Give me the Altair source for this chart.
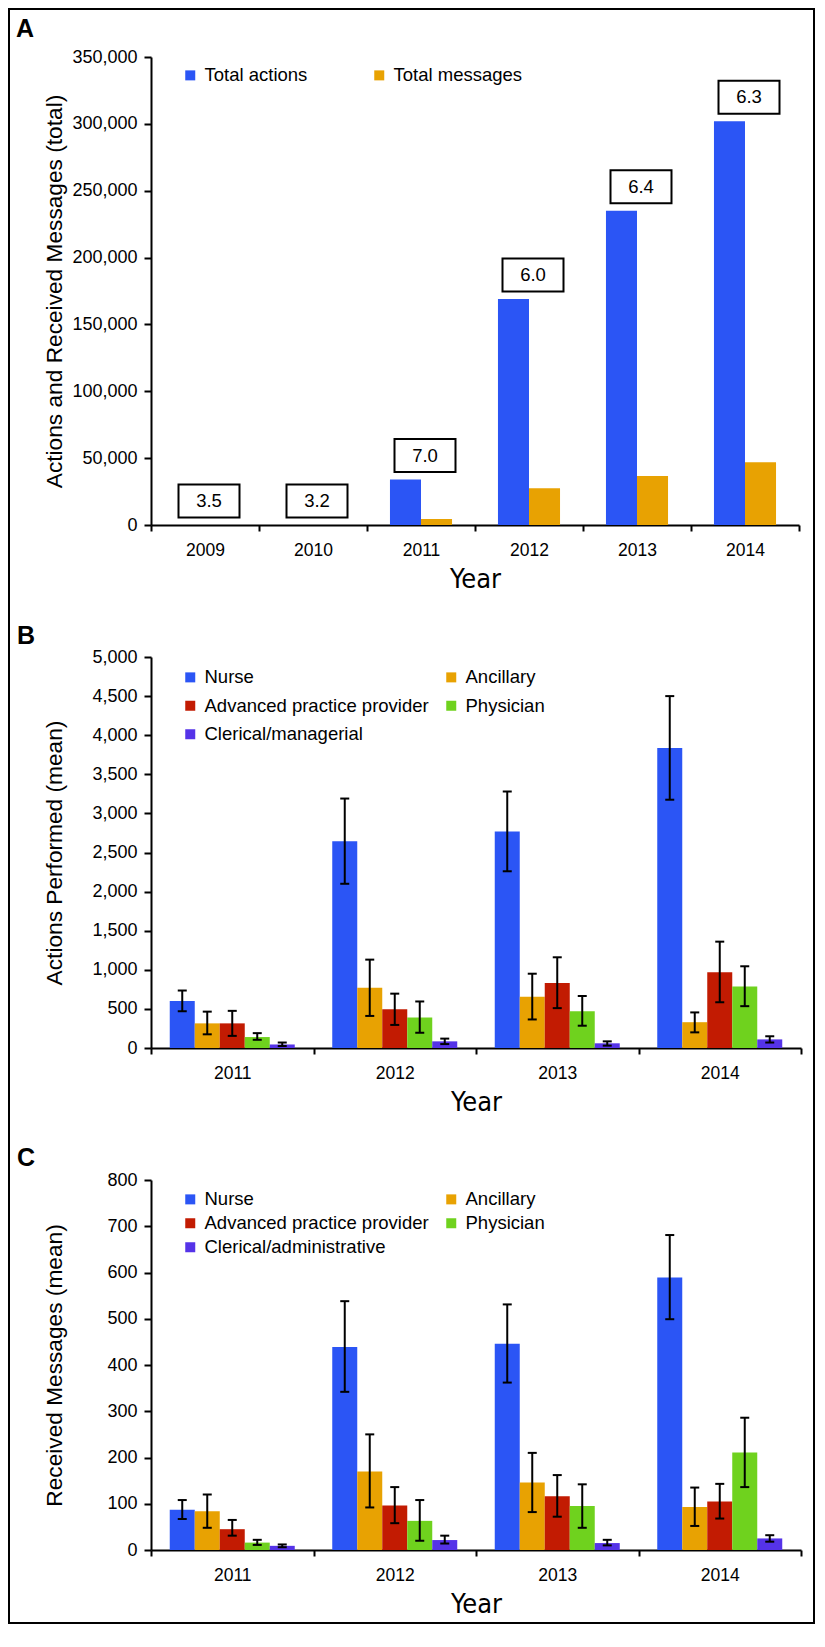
import altair as alt
import pandas as pd

FONT = "Liberation Sans"
NARROW = "Liberation Sans Narrow, DejaVu Sans Condensed, Liberation Sans"

# ---------------- Panel A data ----------------
years_a = ["2009", "2010", "2011", "2012", "2013", "2014"]
series_a = ["Total actions", "Total messages"]
total_actions = [None, None, 34000, 169000, 235000, 302000]
total_messages = [None, None, 4500, 27500, 36700, 47000]
ratio_labels = ["3.5", "3.2", "7.0", "6.0", "6.4", "6.3"]
y_ticks_a = [0, 50000, 100000, 150000, 200000, 250000, 300000, 350000]
colors_a = ["#2B55F5", "#E8A202"]

# ---------------- Panel B / C data ----------------
years_bc = ["2011", "2012", "2013", "2014"]
roles_b = ["Nurse", "Ancillary", "Advanced practice provider", "Physician", "Clerical/managerial"]
roles_c = ["Nurse", "Ancillary", "Advanced practice provider", "Physician", "Clerical/administrative"]
role_colors = ["#2B55F5", "#E8A202", "#C21B02", "#6FD21E", "#5533E8"]

# Actions performed (mean) with error bar bounds, per role, per year
b_nurse = [600, 2645, 2770, 3835]
b_nurse_lo = [470, 2100, 2260, 3175]
b_nurse_hi = [735, 3190, 3280, 4500]
b_anc = [315, 770, 655, 330]
b_anc_lo = [175, 410, 365, 200]
b_anc_hi = [465, 1130, 950, 455]
b_app = [315, 495, 830, 970]
b_app_lo = [155, 295, 510, 585]
b_app_hi = [475, 695, 1160, 1360]
b_phys = [140, 390, 470, 785]
b_phys_lo = [105, 195, 285, 535]
b_phys_hi = [190, 595, 665, 1045]
b_cler = [45, 85, 60, 110]
b_cler_lo = [25, 50, 30, 70]
b_cler_hi = [70, 120, 85, 150]
y_ticks_b = [0, 500, 1000, 1500, 2000, 2500, 3000, 3500, 4000, 4500, 5000]

# Received messages (mean)
c_nurse = [87, 439, 446, 589]
c_nurse_lo = [67, 342, 362, 499]
c_nurse_hi = [108, 538, 531, 681]
c_anc = [84, 170, 146, 93]
c_anc_lo = [48, 92, 82, 52]
c_anc_hi = [120, 250, 210, 135]
c_app = [45, 96, 116, 105]
c_app_lo = [31, 58, 72, 68]
c_app_hi = [65, 136, 162, 143]
c_phys = [16, 63, 95, 211]
c_phys_lo = [11, 20, 48, 136]
c_phys_hi = [22, 108, 142, 286]
c_cler = [9, 21.5, 15, 25]
c_cler_lo = [6, 14, 10, 18]
c_cler_hi = [12, 31, 22, 32]
y_ticks_c = [0, 100, 200, 300, 400, 500, 600, 700, 800]


def x_axis():
    return alt.Axis(title="Year", labelAngle=0, tickBand="extent", tickSize=6,
                    labelPadding=10, titlePadding=8, labelFontSize=17.5,
                    titleFont=NARROW, titleFontSize=27, titleFontWeight="normal",
                    domainWidth=2, tickWidth=2)


def y_axis(title, values):
    return alt.Axis(title=title, values=values, format=",.0f", grid=False, tickSize=7,
                    labelPadding=7, labelFontSize=18, titleFontSize=22.7,
                    titleFontWeight="normal", titleX=-85, titleBaseline="bottom",
                    domainWidth=2, tickWidth=2)


def letter(ch, x, y):
    return alt.Chart(pd.DataFrame({"t": [ch]})).mark_text(
        font=FONT, fontSize=25, fontWeight="bold", align="left", baseline="alphabetic",
        color="black").encode(x=alt.value(x), y=alt.value(y), text="t:N")


def role_legend(roles, legend_y, row_pad):
    # entries fill column by column: Nurse / APP / Clerical, then Ancillary / Physician
    order = [roles[0], roles[2], roles[4], roles[1], roles[3]]
    return alt.Legend(title=None, orient="none", legendX=30, legendY=legend_y, columns=2,
                      values=order, columnPadding=13, rowPadding=row_pad,
                      symbolType="square", symbolSize=100, symbolStrokeWidth=0,
                      labelFontSize=18.5, labelFont=FONT, labelOffset=5,
                      labelColor="black", labelLimit=400, padding=0)


# ---------------- Panel A ----------------
W_A, H_A = 648, 468
rows = []
for i, yr in enumerate(years_a):
    for s, vals in zip(series_a, [total_actions, total_messages]):
        if vals[i] is not None:
            rows.append({"year": yr, "series": s, "value": vals[i]})
df_a = pd.DataFrame(rows)
df_box = pd.DataFrame({"year": years_a, "label": ratio_labels,
                       "base": [v if v is not None else 0 for v in total_actions]})

xa = alt.X("year:N", scale=alt.Scale(domain=years_a, paddingInner=0, paddingOuter=0), axis=x_axis())
ya_axis = y_axis("Actions and Received Messages (total)", y_ticks_a)
ya_scale = alt.Scale(domain=[0, 350000], nice=False)

bars_a = alt.Chart(df_a).mark_bar().encode(
    x=xa,
    xOffset=alt.XOffset("series:N", scale=alt.Scale(domain=series_a, paddingInner=0, paddingOuter=0.74)),
    y=alt.Y("value:Q", scale=ya_scale, axis=ya_axis),
    color=alt.Color("series:N", scale=alt.Scale(domain=series_a, range=colors_a),
                    legend=alt.Legend(title=None, orient="none", legendX=30, legendY=9, columns=2,
                                      columnPadding=62, symbolType="square", symbolSize=100,
                                      symbolStrokeWidth=0, labelFontSize=18.5, labelFont=FONT,
                                      labelOffset=5, labelColor="black", labelLimit=400, padding=0)),
)

box_shape = "M-1,-0.54L1,-0.54L1,0.54L-1,0.54Z"
boxes = alt.Chart(df_box).mark_point(
    shape=box_shape, size=61 * 61, filled=True, fill="white", stroke="black",
    strokeWidth=2, opacity=1, xOffset=4, yOffset=-24).encode(
    x=xa, y=alt.Y("base:Q", scale=ya_scale, axis=ya_axis))
box_text = alt.Chart(df_box).mark_text(
    font=FONT, fontSize=18.5, color="black", xOffset=4, yOffset=-24, baseline="middle").encode(
    x=xa, y=alt.Y("base:Q", scale=ya_scale, axis=ya_axis), text="label:N")

# outer figure frame, kept inside the browser window
frame = alt.Chart(pd.DataFrame({"a": [0]})).mark_rect(
    fillOpacity=0, stroke="black", strokeWidth=2).encode(
    x=alt.value(-142), x2=alt.value(663), y=alt.value(-48), y2=alt.value(1566))

panel_a = alt.layer(frame, bars_a, boxes, box_text, letter("A", -135, -20)).properties(
    width=W_A, height=H_A)


# ---------------- Panels B and C ----------------
def build_df(roles, means, los, his):
    rows = []
    for r, m, lo, hi in zip(roles, means, los, his):
        for i, yr in enumerate(years_bc):
            rows.append({"year": yr, "role": r, "mean": m[i], "lo": lo[i], "hi": hi[i]})
    return pd.DataFrame(rows)


def role_panel(df, roles, title, ticks, ymax, height, legend_y, row_pad, ch, ch_y):
    x = alt.X("year:N", scale=alt.Scale(domain=years_bc, paddingInner=0, paddingOuter=0), axis=x_axis())
    xo = alt.XOffset("role:N", scale=alt.Scale(domain=roles, paddingInner=0, paddingOuter=0.75))
    ys = alt.Scale(domain=[0, ymax], nice=False)
    ax = y_axis(title, ticks)
    base = alt.Chart(df)
    bars = base.mark_bar().encode(
        x=x, xOffset=xo, y=alt.Y("mean:Q", scale=ys, axis=ax),
        color=alt.Color("role:N", scale=alt.Scale(domain=roles, range=role_colors),
                        legend=role_legend(roles, legend_y, row_pad)))
    rule = base.mark_rule(color="black", strokeWidth=2).encode(
        x=x, xOffset=xo, y=alt.Y("lo:Q", scale=ys, axis=ax), y2="hi:Q")
    cap_lo = base.mark_tick(color="black", thickness=2, size=9, opacity=1).encode(
        x=x, xOffset=xo, y=alt.Y("lo:Q", scale=ys, axis=ax))
    cap_hi = base.mark_tick(color="black", thickness=2, size=9, opacity=1).encode(
        x=x, xOffset=xo, y=alt.Y("hi:Q", scale=ys, axis=ax))
    return alt.layer(bars, rule, cap_lo, cap_hi, letter(ch, -134, ch_y)).properties(
        width=650, height=height)


df_b = build_df(roles_b,
                [b_nurse, b_anc, b_app, b_phys, b_cler],
                [b_nurse_lo, b_anc_lo, b_app_lo, b_phys_lo, b_cler_lo],
                [b_nurse_hi, b_anc_hi, b_app_hi, b_phys_hi, b_cler_hi])
df_c = build_df(roles_c,
                [c_nurse, c_anc, c_app, c_phys, c_cler],
                [c_nurse_lo, c_anc_lo, c_app_lo, c_phys_lo, c_cler_lo],
                [c_nurse_hi, c_anc_hi, c_app_hi, c_phys_hi, c_cler_hi])

panel_b = role_panel(df_b, roles_b, "Actions Performed (mean)", y_ticks_b, 5000, 391, 11, 9.5, "B", -13)
panel_c = role_panel(df_c, roles_c, "Received Messages (mean)", y_ticks_c, 800, 370, 10, 5, "C", -14)

chart = alt.vconcat(panel_a, panel_b, panel_c, spacing=132, bounds="flush").resolve_scale(
    color="independent", x="independent", y="independent", xOffset="independent"
).properties(
    padding={"left": 0, "top": 0, "right": 0, "bottom": 0}, background="white"
).configure_view(strokeWidth=0).configure_axis(
    labelFont=FONT, titleFont=FONT, labelColor="black", titleColor="black",
    domainColor="black", tickColor="black"
).configure_legend(labelFont=FONT)

chart.save("out.html", embed_options={"renderer": "svg", "actions": False})
